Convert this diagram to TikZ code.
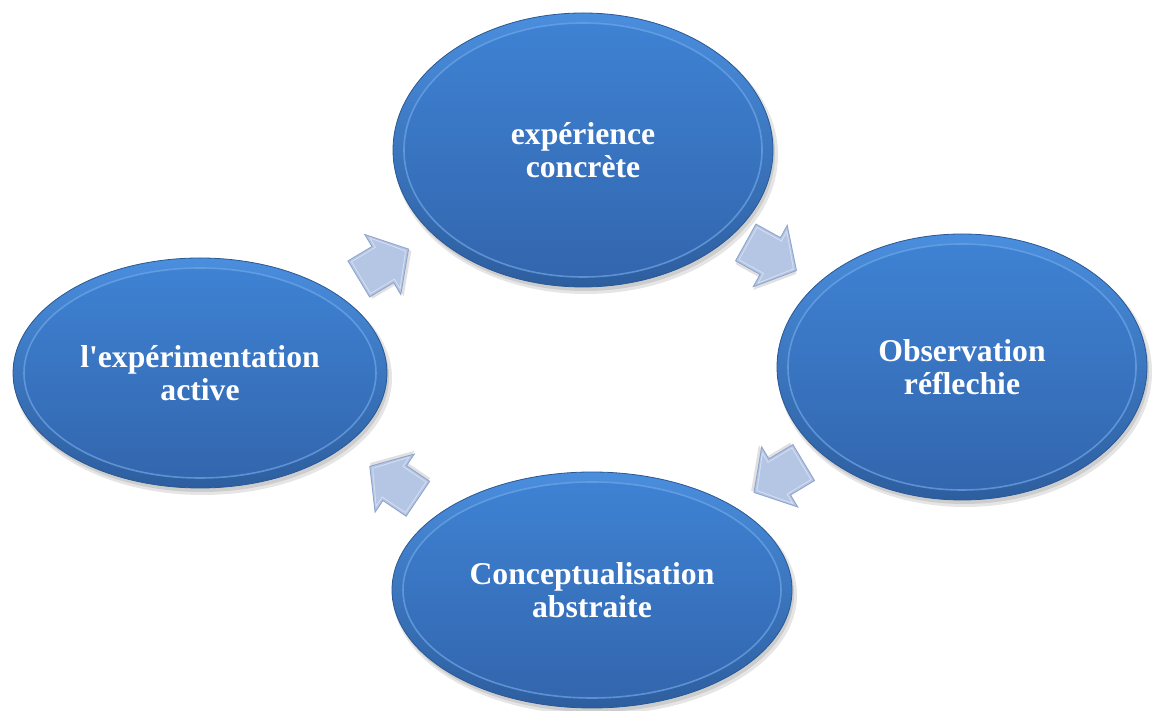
\documentclass[tikz,border=0pt]{standalone}
\usepackage{fontspec}
\newfontfamily\lblfont{Liberation Serif}[BoldFont={Liberation Serif Bold}]
\usetikzlibrary{shapes.geometric}
\definecolor{ellTop}{HTML}{4A8EDE}
\definecolor{ellBot}{HTML}{2D5E9F}
\definecolor{ellEdge}{HTML}{2A5893}
\definecolor{inTop}{HTML}{3E82D3}
\definecolor{inBot}{HTML}{3366AE}
\definecolor{inRing}{HTML}{6FA6E6}
\definecolor{arrFill}{HTML}{B5C6E5}
\definecolor{arrEdge}{HTML}{8FA5CD}
\tikzset{
  x=1pt, y=1pt,
  ellshadow/.style={ellipse, fill=black, opacity=0.10, draw=none, inner sep=0pt},
  outerell/.style={ellipse, top color=ellTop, bottom color=ellBot, draw=ellEdge, line width=0.8pt, inner sep=0pt},
  innerell/.style={ellipse, top color=inTop, bottom color=inBot, draw=inRing, draw opacity=0.7, line width=1.6pt, inner sep=0pt},
  lbltext/.style={text=white, align=center, font=\lblfont\bfseries\fontsize{31.7}{32.5}\selectfont, inner sep=0pt},
  arrshape/.style={fill=arrFill, draw=arrEdge, line width=0.9pt, line join=miter},
  arrshadow/.style={fill=black, opacity=0.12, draw=none},
  arrinner/.style={draw=white, opacity=0.45, line width=0.8pt, fill=none}
}
\newcommand\bevellipse[6]{%
  \node[ellshadow, minimum width=2*#4+4, minimum height=2*#5+4] at (#2+3,#3-5) {};
  \node[ellshadow, minimum width=2*#4, minimum height=2*#5] at (#2+2,#3-4) {};
  \node[outerell, minimum width=2*#4, minimum height=2*#5] (#1) at (#2,#3) {};
  \node[innerell, minimum width=2*#4-22, minimum height=2*#5-20] (#1in) at (#1) {};
  \node[lbltext] (#1txt) at (#1) {#6};
}
\newcommand\blockarrow[4]{%
  \coordinate (#1) at (#2,#3);
  \begin{scope}[shift={(#1)}, rotate=#4]
    \fill[arrshadow, shift={(1.5,-3)}] (-30,-21) -- (-2,-21) -- (-2,-35) -- (28,0) -- (-2,35) -- (-2,21) -- (-30,21) -- cycle;
    \path[arrshape] (-30,-21) -- (-2,-21) -- (-2,-35) -- (28,0) -- (-2,35) -- (-2,21) -- (-30,21) -- cycle;
    \path[arrinner] (-27.5,-18.5) -- (0.5,-18.5) -- (0.5,-29.5) -- (24.5,0) -- (0.5,29.5) -- (0.5,18.5) -- (-27.5,18.5) -- cycle;
  \end{scope}
}
\begin{document}
\begin{tikzpicture}
\useasboundingbox[fill=white] (0,0) rectangle (1155,711);
\bevellipse{top}{583}{561}{190}{137}{expérience\\concrète}
\bevellipse{right}{962}{344}{185}{133}{Observation\\réflechie}
\bevellipse{bottom}{592}{121}{200}{118}{Conceptualisation\\abstraite}
\bevellipse{left}{200}{338}{187}{115}{l'expérimentation\\active}
\blockarrow{a1}{384.5}{447.5}{31}
\blockarrow{a2}{772}{454}{-29}
\blockarrow{a3}{778}{233}{211}
\blockarrow{a4}{393}{229}{146}
\end{tikzpicture}
\end{document}
